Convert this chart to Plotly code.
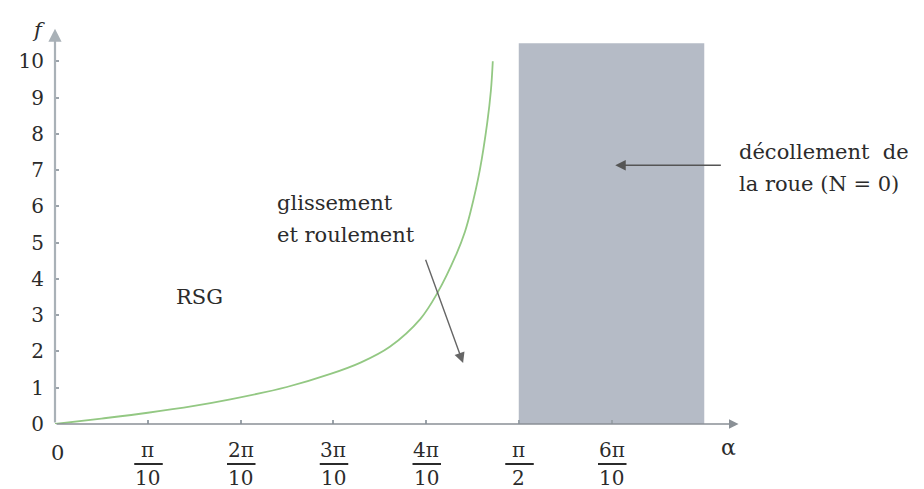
import plotly.graph_objects as go

# alpha expressed in units of pi/10, f
alpha = [0, 0.5, 1.0, 1.5, 1.89, 2.5, 2.97, 3.3, 3.61, 3.94, 4.12, 4.33, 4.42, 4.48, 4.58, 4.66, 4.70, 4.72]
f_vals = [0, 0.15, 0.31, 0.5, 0.68, 1.02, 1.38, 1.70, 2.13, 2.90, 3.60, 4.70, 5.3, 5.85, 7.0, 8.3, 9.2, 10.0]

x_tick_pos = [1, 2, 3, 4, 5, 6]
x_tick_num = ["π", "2π", "3π", "4π", "π", "6π"]
x_tick_den = ["10", "10", "10", "10", "2", "10"]
y_ticks = list(range(0, 11))

zone_start, zone_end, zone_top = 5, 7, 10.5

X_MAX, Y_MAX = 7.45, 11

FONT = "DejaVu Serif"
TXT = "#2b2b2b"
AX = "#9ba3aa"

fig = go.Figure()
fig.add_trace(go.Scatter(x=alpha, y=f_vals, mode="lines",
                         line=dict(color="#93c883", width=1.8, shape="spline", smoothing=1.0),
                         hoverinfo="skip", showlegend=False))

fig.add_shape(type="rect", xref="x", yref="y", x0=zone_start, x1=zone_end, y0=0, y1=zone_top,
              fillcolor="#b5bbc6", line=dict(width=0), layer="below")

ann = []
# axes with arrows
ann.append(dict(x=0, y=10.9, ax=0, ay=0, xref="x", yref="y", axref="x", ayref="y",
                text="", showarrow=True, arrowhead=2, arrowsize=1.2, arrowwidth=2.2, arrowcolor="#a9b1b7"))
ann.append(dict(x=7.37, y=0, ax=0, ay=0, xref="x", yref="y", axref="x", ayref="y",
                text="", showarrow=True, arrowhead=2, arrowsize=1.2, arrowwidth=1.6, arrowcolor="#8a9096"))

# x tick labels (fractions) -- placed below the axis in paper coordinates
tick_font = dict(family=FONT, size=20, color=TXT)
ann.append(dict(x=0.03 / X_MAX, y=-0.072, xref="paper", yref="paper", text="0", showarrow=False,
                xanchor="center", yanchor="middle", font=dict(family=FONT, size=21, color=TXT)))
for p, n, d in zip(x_tick_pos, x_tick_num, x_tick_den):
    xp = p / X_MAX
    ann.append(dict(x=xp, y=-0.066, xref="paper", yref="paper", text=n, showarrow=False,
                    xanchor="center", yanchor="middle", font=tick_font))
    ann.append(dict(x=xp, y=-0.136, xref="paper", yref="paper", text=d, showarrow=False,
                    xanchor="center", yanchor="middle", font=tick_font))
    ann.append(dict(x=xp + 15 / 691, y=-0.1003, xref="paper", yref="paper", ax=-30, ay=0,
                    text="", showarrow=True, arrowhead=0, arrowwidth=1.8, arrowcolor=TXT,
                    standoff=0, startstandoff=0))

# axis titles
ann.append(dict(x=-0.024, y=10.85, xref="paper", yref="y", text="<i>f</i>", showarrow=False,
                xanchor="center", yanchor="middle", font=dict(family=FONT, size=21, color=TXT)))
ann.append(dict(x=7.26 / X_MAX, y=-0.058, xref="paper", yref="paper", text="α", showarrow=False,
                xanchor="center", yanchor="middle", font=dict(family=FONT, size=22, color=TXT)))

# labels
lab_font = dict(family=FONT, size=21, color=TXT)
ann.append(dict(x=1.56, y=3.5, xref="x", yref="y", text="RSG", showarrow=False, font=lab_font))
ann.append(dict(x=2.37, y=6.09, xref="x", yref="y", text="glissement", showarrow=False,
                xanchor="left", font=lab_font))
ann.append(dict(x=2.37, y=5.21, xref="x", yref="y", text="et roulement", showarrow=False,
                xanchor="left", font=lab_font))
ann.append(dict(x=7.35 / X_MAX, y=7.49, xref="paper", yref="y", text="décollement  de", showarrow=False,
                xanchor="left", yanchor="middle", font=lab_font))
ann.append(dict(x=7.35 / X_MAX, y=6.61, xref="paper", yref="y", text="la roue (N = 0)", showarrow=False,
                xanchor="left", yanchor="middle", font=lab_font))

# pointer arrows
ann.append(dict(x=6.04, y=7.135, ax=7.195, ay=7.135, xref="x", yref="y", axref="x", ayref="y",
                text="", showarrow=True, arrowhead=2, arrowsize=1.5, arrowwidth=1.4, arrowcolor="#555"))
ann.append(dict(x=4.40, y=1.68, ax=3.99, ay=4.57, xref="x", yref="y", axref="x", ayref="y",
                text="", showarrow=True, arrowhead=2, arrowsize=1.5, arrowwidth=1.4, arrowcolor="#666"))

fig.update_layout(
    width=924, height=489,
    margin=dict(l=55, r=178, t=25, b=65, autoexpand=False),
    plot_bgcolor="white", paper_bgcolor="white",
    showlegend=False,
    annotations=ann,
    xaxis=dict(range=[0, X_MAX], showgrid=False, zeroline=False, showline=False, automargin=False,
               tickvals=[0] + x_tick_pos, showticklabels=False,
               ticks="inside", ticklen=4, tickwidth=1.5, tickcolor=AX, fixedrange=True),
    yaxis=dict(range=[0, Y_MAX], showgrid=False, zeroline=False, showline=False, automargin=False,
               tickvals=y_ticks, ticktext=[str(v) for v in y_ticks],
               ticks="inside", ticklen=4, tickwidth=1.5, tickcolor=AX,
               ticklabelstandoff=10,
               tickfont=dict(family=FONT, size=20, color=TXT), fixedrange=True),
)

fig.write_html("out.html", config={"displayModeBar": False},
               post_script="document.body.style.margin='0';document.body.style.overflow='hidden';")
